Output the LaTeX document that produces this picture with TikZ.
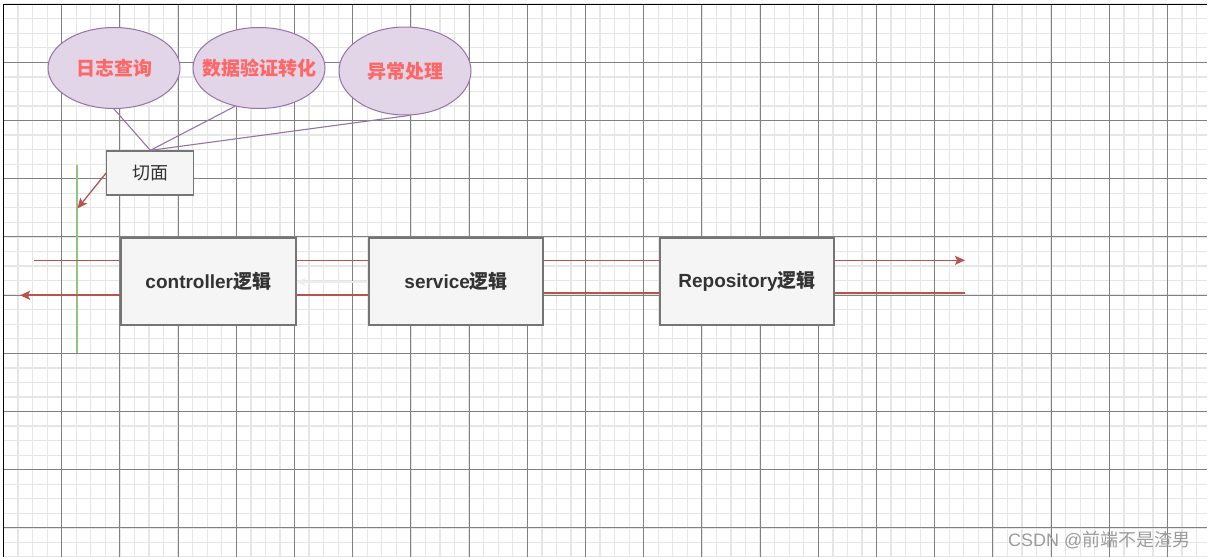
\documentclass[tikz,border=0pt]{standalone}
\usepackage{fontspec}
\setmainfont{Liberation Sans}
\newfontfamily\cjk{Noto Sans CJK SC}
\usetikzlibrary{arrows.meta,shapes.geometric}
\definecolor{minorc}{HTML}{E6E6E6}
\definecolor{majorc}{HTML}{808080}
\definecolor{purfill}{HTML}{E1D5E7}
\definecolor{purline}{HTML}{9673A6}
\definecolor{redtext}{HTML}{FF6666}
\definecolor{boxfill}{HTML}{F5F5F5}
\definecolor{boxline}{HTML}{757575}
\definecolor{redline}{HTML}{B85450}
\definecolor{greenline}{HTML}{97C086}
\definecolor{darktext}{HTML}{333333}
\definecolor{wmark}{HTML}{9C9C9C}
\tikzset{
  minorline/.style={draw=minorc, line width=1.3pt},
  majorline/.style={draw=majorc, line width=0.9pt},
  bubble/.style={ellipse, draw=purline, fill=purfill, line width=1pt, inner ysep=0pt, inner xsep=-14pt,
    text=redtext, font=\fontsize{19}{22}\selectfont\cjk\bfseries},
  aspectbox/.style={rectangle, draw=boxline, fill=boxfill, line width=1.3pt, inner sep=0pt,
    minimum width=87pt, minimum height=44pt, text=darktext, font=\fontsize{18}{21}\selectfont\cjk},
  logicbox/.style={rectangle, draw=boxline, fill=boxfill, line width=1.8pt, inner sep=0pt,
    minimum width=174pt, minimum height=87pt, text=darktext, font=\fontsize{19}{22}\selectfont\bfseries},
  purlink/.style={draw=purline, line width=1.1pt},
  flowline/.style={draw=redline, line width=1.3pt},
  backline/.style={draw=redline, line width=2pt},
  redtip/.style={-{Stealth[length=10pt,width=9pt,inset=2pt]}},
}
\begin{document}
\begin{tikzpicture}[x=1pt,y=-1pt]
\useasboundingbox (0,0) rectangle (1216,557);
\fill[white] (0,0) rectangle (1216,557);
% grid
\foreach \i in {0,...,82} \draw[minorline] ({3.5+\i*14.55},4.5) -- ({3.5+\i*14.55},557);
\foreach \j in {0,...,38} \draw[minorline] (3.5,{4.1+\j*14.55}) -- (1207,{4.1+\j*14.55});
\foreach \i in {1,...,20} \draw[majorline] ({3.5+\i*58.2},4.5) -- ({3.5+\i*58.2},557);
\foreach \j in {1,...,9} \draw[majorline] (3.5,{4.1+\j*58.2}) -- (1207,{4.1+\j*58.2});
\draw[black, line width=1.3pt] (3.5,557) -- (3.5,4.5) -- (1207,4.5);

% aspect bubbles
\node[bubble, minimum width=132pt, minimum height=81pt] (log) at (114,68) {日志查询};
\node[bubble, minimum width=132pt, minimum height=81pt] (valid) at (259,68) {数据验证转化};
\node[bubble, minimum width=132pt, minimum height=88pt] (exc) at (405,71) {异常处理};

% aspect box
\node[aspectbox] (asp) at (150.3,173) {切面};
\draw[purlink] (log.south) -- (asp.north);
\draw[purlink] (valid.238) -- (asp.north);
\draw[purlink] (exc.276) -- (asp.north);

% green cut line
\coordinate (gtop) at (77,165);
\coordinate (gbot) at (77,353);
\coordinate (gpt) at (77.5,208.5);
\draw[draw=greenline, line width=1.5pt] (gtop) -- (gbot);
\draw[flowline, redtip] (asp.west) -- (gpt);

% logic boxes
\node[logicbox, minimum width=175pt] (ctrl) at (208.3,281.5) {controller{\cjk 逻辑}};
\node[logicbox] (svc) at (456.2,281.5) {service{\cjk 逻辑}};
\node[logicbox] (repo) at (747,281.5) {Repository{\cjk 逻辑}};

% request flow
\coordinate (inL) at (34,260.3);
\coordinate (outR) at (965,260.3);
\draw[flowline] (inL) -- (ctrl.west |- inL);
\draw[flowline] (ctrl.east |- inL) -- (svc.west |- inL);
\draw[flowline] (svc.east |- inL) -- (repo.west |- inL);
\draw[flowline, redtip] (repo.east |- inL) -- (outR);

% faint connector
\coordinate (fy) at (0,282);
\draw[draw=white!93!black, line width=1.2pt, -{Stealth[length=9pt,width=8pt]}] (svc.west |- fy) -- (ctrl.east |- fy);

% return flow
\coordinate (retR) at (965,293.3);
\coordinate (retL) at (20,295.3);
\draw[backline] (retR) -- (repo.east |- retR);
\draw[backline] (repo.west |- retR) -- (svc.east |- retR);
\draw[backline] (svc.west |- retL) -- (ctrl.east |- retL);
\draw[backline, redtip] (ctrl.west |- retL) -- (retL);

% watermark
\node[anchor=west, text=wmark, font=\fontsize{18}{21}\selectfont, inner sep=0pt] (wm) at (1008,540) {CSDN @{\cjk 前端不是渣男}};
\end{tikzpicture}
\end{document}
